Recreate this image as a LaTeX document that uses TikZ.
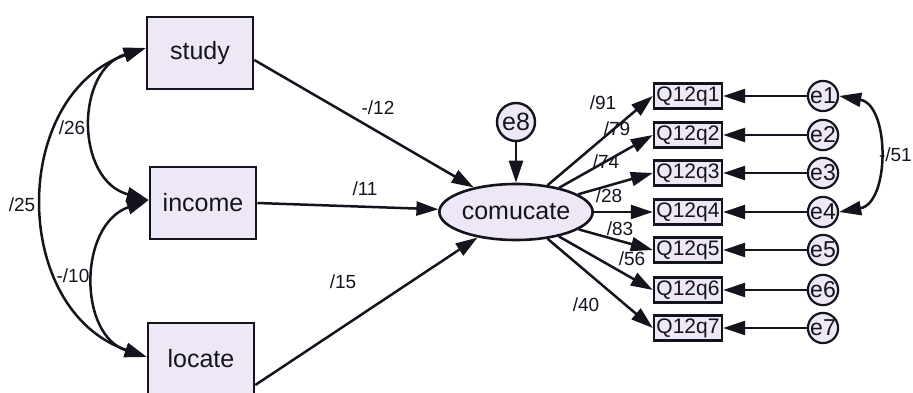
\documentclass[tikz,border=0pt]{standalone}
\usepackage{fontspec}
\setmainfont{Liberation Sans}
\usetikzlibrary{arrows.meta,shapes.geometric}
\definecolor{boxfill}{RGB}{238,232,246}
\definecolor{inkdark}{RGB}{20,20,30}
\tikzset{
  varbox/.style={draw=inkdark,line width=2.6pt,fill=boxfill,minimum width=106pt,minimum height=72pt,inner sep=0pt,font=\fontsize{25}{25}\selectfont,text=inkdark},
  itembox/.style={draw=inkdark,line width=2.4pt,fill=boxfill,minimum width=68pt,minimum height=25pt,inner sep=0pt,font=\fontsize{21}{21}\selectfont,text=inkdark},
  latent/.style={ellipse,draw=inkdark,line width=2.6pt,fill=boxfill,minimum width=133pt,minimum height=56pt,inner sep=0pt,font=\fontsize{25}{25}\selectfont,text=inkdark},
  errbig/.style={circle,draw=inkdark,line width=2.4pt,fill=boxfill,minimum size=38pt,inner sep=0pt,font=\fontsize{25}{25}\selectfont,text=inkdark},
  errsmall/.style={circle,draw=inkdark,line width=2.2pt,fill=boxfill,minimum size=27pt,inner sep=0pt,font=\fontsize{23}{23}\selectfont,text=inkdark},
  path/.style={line width=2.5pt,draw=inkdark,-{Triangle[length=22pt,width=14pt]}},
  cov/.style={line width=2.5pt,draw=inkdark,{Triangle[length=22pt,width=14pt]}-{Triangle[length=22pt,width=14pt]}},
  coef/.style={font=\fontsize{19}{19}\selectfont,text=inkdark,inner sep=0pt}
}
\begin{document}
\begin{tikzpicture}[x=1pt,y=-1pt]
\useasboundingbox (0,0) rectangle (913,393);
\clip (0,0) rectangle (913,393);
\fill[white] (0,0) rectangle (913,393);

% exogenous variables
\node[varbox] (study) at (200,53) {study};
\node[varbox] (income) at (203,203) {income};
\node[varbox] (locate) at (201,359) {locate};

% latent factor and its disturbance
\node[latent] (com) at (516,212) {comucate};
\node[errbig] (e8) at (516,122) {e8};

% indicators
\foreach \i/\y in {1/96,2/135,3/173,4/212,5/250,6/290,7/328}{
  \node[itembox] (q\i) at (688,\y) {Q12q\i};
  \node[errsmall] (e\i) at (823,\y) {e\i};
}

% coefficient labels (drawn under the lines)
\node[coef] at (72,128) {/26};
\node[coef] at (22,205) {/25};
\node[coef] at (73,276) {-/10};
\node[coef] at (378,108) {-/12};
\node[coef] at (365,189) {/11};
\node[coef] at (343,282) {/15};
\node[coef] at (603,103) {/91};
\node[coef] at (617,129) {/79};
\node[coef] at (606,162) {/74};
\node[coef] at (609,196) {/28};
\node[coef] at (620,229) {/83};
\node[coef] at (632,259) {/56};
\node[coef] at (586,305) {/40};
\node[coef,anchor=east] at (912,155) {-/51};

% covariances among the predictors
\draw[cov] (study.west |- 0,48) .. controls (75,70) and (75,180) .. (income.west |- 0,200);
\draw[cov] (study.west |- 0,48) .. controls (10,95) and (10,310) .. (locate.west |- 0,357);
\draw[cov] (income.west |- 0,200) .. controls (78,225) and (78,335) .. (locate.west |- 0,357);

% structural paths
\draw[path] (study.east |- 0,60) -- (com);
\draw[path] (income.east) -- (com);
\draw[path] (locate.east |- 0,385) -- (com);
\draw[path] (e8) -- (com);

% loadings and measurement errors
\foreach \i in {1,...,7}{
  \draw[path] (com) -- (q\i.west);
  \draw[path] (e\i.west) -- (q\i.east);
}

% error covariance
\draw[cov] (e1.east) .. controls (890,105) and (890,203) .. (e4.east);
\end{tikzpicture}
\end{document}
